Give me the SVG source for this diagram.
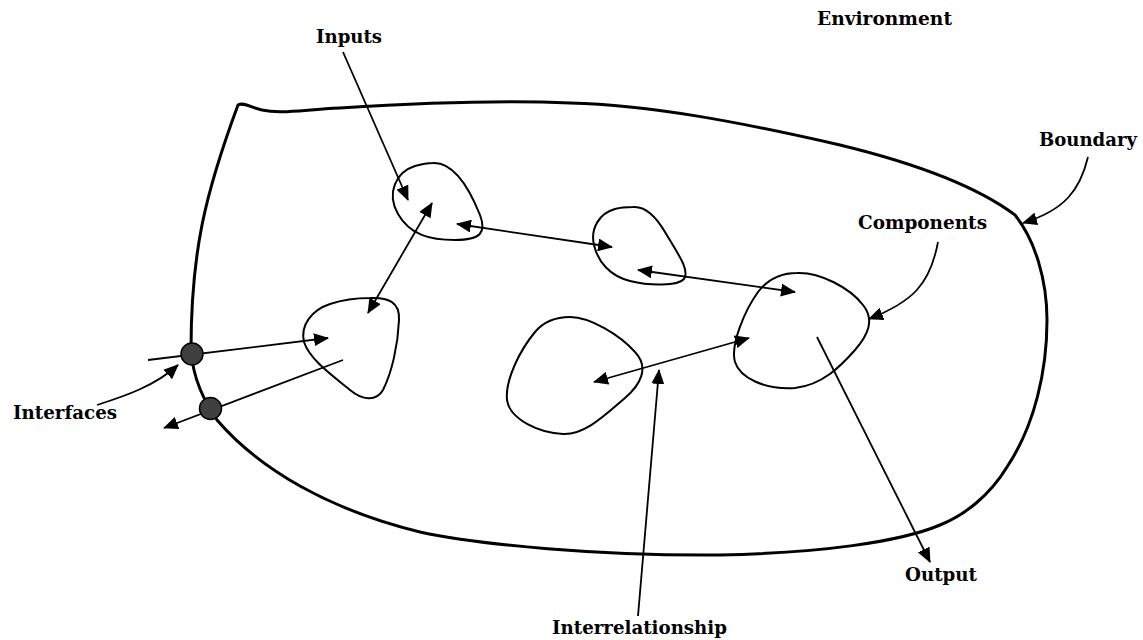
<svg xmlns="http://www.w3.org/2000/svg" width="1143" height="640" viewBox="0 0 1143 640">
  <style>
    .label { font-family: "DejaVu Serif", "Liberation Serif", serif; font-weight: bold; font-size: 18.5px; fill: #000; }
    .boundary { fill: none; stroke: #000; stroke-width: 3; stroke-linejoin: round; }
    .blob { fill: none; stroke: #000; stroke-width: 2; }
    .link { fill: none; stroke: #000; stroke-width: 1.8; }
    .port { fill: #404040; stroke: #000; stroke-width: 1.5; }
  </style>
  <defs>
    <marker id="ah" viewBox="0 0 15 13" refX="14" refY="6.5" markerWidth="15" markerHeight="13" markerUnits="userSpaceOnUse" orient="auto-start-reverse">
      <path d="M0,0 L15,6.5 L0,13 z" fill="#000"/>
    </marker>
  </defs>

  <rect width="1143" height="640" fill="#fff"/>

  <!-- system boundary -->
  <g id="boundary">
    <path class="boundary" d="M238,105 C243,102 250,107 262,110 C280,114 300,110 340,108 C420,103 500,100 570,103 C650,105 740,122 840,145 C910,162 975,185 1015,215 C1035,240 1047,280 1047,320 C1047,370 1035,425 1007,467 C990,495 965,515 940,525 C900,542 820,553 720,555 C600,556 480,545 420,532 C330,510 260,470 217,420 C205,402 193,380 191,350 C191,300 195,260 202,225 C210,185 225,140 238,105 Z"/>
  </g>

  <!-- components -->
  <g id="component-a">
    <path class="blob" d="M433,163 C455,162 470,190 480,215 C487,233 480,240 455,240 C430,240 410,235 398,214 C386,193 396,172 415,166 C422,164 428,163 433,163 Z"/>
  </g>
  <g id="component-b">
    <path class="blob" d="M633,207 C645,206 655,215 665,232 C678,254 690,270 684,279 C678,286 650,286 630,281 C610,276 598,262 594,245 C590,228 600,213 615,209 C622,207 628,207 633,207 Z"/>
  </g>
  <g id="component-c">
    <path class="blob" d="M370,298 C388,297 400,302 399,320 C398,345 392,372 383,390 C376,402 362,400 350,390 C333,376 310,360 304,342 C300,325 312,310 330,304 C342,300 356,298 370,298 Z"/>
  </g>
  <g id="component-d">
    <path class="blob" d="M797,273 C820,272 850,288 863,305 C875,320 868,335 855,350 C840,367 822,385 795,388 C765,390 740,378 735,362 C730,345 745,310 758,292 C768,279 782,273 797,273 Z"/>
  </g>
  <g id="component-e">
    <path class="blob" d="M570,317 C590,317 620,335 635,352 C650,368 640,385 625,398 C605,415 585,435 563,434 C540,433 510,420 507,400 C505,380 520,350 535,332 C545,320 558,317 570,317 Z"/>
  </g>

  <!-- connectors -->
  <g id="connectors">
    <line class="link" x1="343" y1="52" x2="408" y2="200" marker-end="url(#ah)"/>
    <line class="link" x1="368" y1="313" x2="432" y2="203" marker-start="url(#ah)" marker-end="url(#ah)"/>
    <line class="link" x1="457" y1="224" x2="612" y2="247" marker-start="url(#ah)" marker-end="url(#ah)"/>
    <line class="link" x1="638" y1="270" x2="795" y2="292" marker-start="url(#ah)" marker-end="url(#ah)"/>
    <line class="link" x1="594" y1="382" x2="749" y2="338" marker-start="url(#ah)" marker-end="url(#ah)"/>
    <line class="link" x1="148" y1="360" x2="328" y2="338" marker-end="url(#ah)"/>
    <line class="link" x1="343" y1="360" x2="164" y2="428" marker-end="url(#ah)"/>
    <line class="link" x1="817" y1="337" x2="930" y2="562" marker-end="url(#ah)"/>
    <line class="link" x1="638" y1="616" x2="659" y2="370" marker-end="url(#ah)"/>
    <path class="link" d="M97,405 C125,396 155,386 178,365" marker-end="url(#ah)"/>
    <path class="link" d="M1088,157 C1080,190 1065,210 1023,223" marker-end="url(#ah)"/>
    <path class="link" d="M938,242 C930,285 912,302 869,319" marker-end="url(#ah)"/>
  </g>

  <!-- interfaces on the boundary -->
  <g id="interface-in">
    <circle class="port" cx="192" cy="354" r="11"/>
  </g>
  <g id="interface-out">
    <circle class="port" cx="210.5" cy="408.5" r="11"/>
  </g>

  <!-- labels -->
  <g id="labels">
    <text class="label" x="817" y="25" textLength="135" lengthAdjust="spacingAndGlyphs">Environment</text>
    <text class="label" x="316" y="43" textLength="66" lengthAdjust="spacingAndGlyphs">Inputs</text>
    <text class="label" x="1039" y="146" textLength="98" lengthAdjust="spacingAndGlyphs">Boundary</text>
    <text class="label" x="858" y="229" textLength="129" lengthAdjust="spacingAndGlyphs">Components</text>
    <text class="label" x="13" y="419" textLength="104" lengthAdjust="spacingAndGlyphs">Interfaces</text>
    <text class="label" x="905" y="581" textLength="72" lengthAdjust="spacingAndGlyphs">Output</text>
    <text class="label" x="552" y="634" textLength="175" lengthAdjust="spacingAndGlyphs">Interrelationship</text>
  </g>
</svg>
